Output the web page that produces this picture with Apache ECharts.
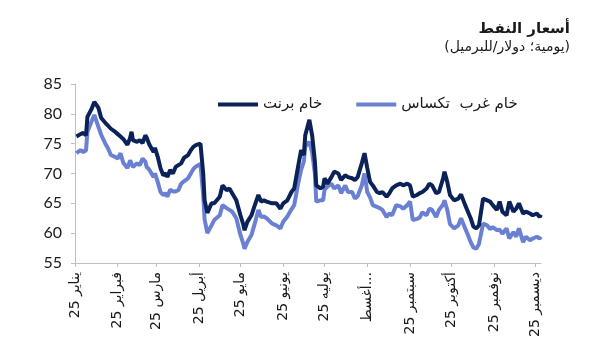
<!DOCTYPE html>
<html>
<head>
<meta charset="utf-8">
<script src="https://cdn.jsdelivr.net/npm/echarts@6/dist/echarts.min.js"></script>
<style>
html,body{margin:0;padding:0;background:#fff;}
#c{width:592px;height:363px;}
</style>
</head>
<body>
<div id="c"></div>
<script>
var monthLabels = ['يناير 25','فبراير 25','مارس 25','أبريل 25','مايو 25','يونيو 25','يوليه 25','أغسط...','سبتمبر 25','أكتوبر 25','نوفمبر 25','ديسمبر 25'];
var yTicks = [55, 60, 65, 70, 75, 80, 85];
var seriesNames = ['خام برنت', 'خام غرب  تكساس'];
var titleText = 'أسعار النفط';
var subtitleText = '(يومية؛ دولار/للبرميل)';

var dates = [
'2025-01-02','2025-01-05','2025-01-07','2025-01-09','2025-01-10','2025-01-13','2025-01-15','2025-01-18','2025-01-20','2025-01-23',
'2025-01-25','2025-01-27','2025-01-30','2025-02-01','2025-02-03','2025-02-05','2025-02-08','2025-02-10','2025-02-11','2025-02-12',
'2025-02-15','2025-02-17','2025-02-19','2025-02-21','2025-02-22','2025-02-24','2025-02-27','2025-02-28','2025-03-02','2025-03-04',
'2025-03-06','2025-03-08','2025-03-09','2025-03-11','2025-03-13','2025-03-15','2025-03-17','2025-03-19','2025-03-21','2025-03-24',
'2025-03-26','2025-03-28','2025-03-30','2025-04-02','2025-04-04','2025-04-05','2025-04-07','2025-04-10','2025-04-12','2025-04-16',
'2025-04-18','2025-04-21','2025-04-23','2025-04-25','2025-04-28','2025-05-01','2025-05-03','2025-05-04','2025-05-06','2025-05-09',
'2025-05-11','2025-05-14','2025-05-16','2025-05-18','2025-05-20','2025-05-24','2025-05-27','2025-05-30','2025-06-01','2025-06-04',
'2025-06-07','2025-06-09','2025-06-12','2025-06-14','2025-06-16','2025-06-17','2025-06-20','2025-06-22','2025-06-24','2025-06-25',
'2025-06-28','2025-06-30','2025-07-01','2025-07-03','2025-07-06','2025-07-08','2025-07-11','2025-07-13','2025-07-16','2025-07-18',
'2025-07-21','2025-07-23','2025-07-25','2025-07-28','2025-07-30','2025-08-01','2025-08-03','2025-08-05','2025-08-08','2025-08-10',
'2025-08-12','2025-08-15','2025-08-17','2025-08-19','2025-08-22','2025-08-25','2025-08-27','2025-08-30','2025-09-01','2025-09-03',
'2025-09-06','2025-09-08','2025-09-10','2025-09-13','2025-09-15','2025-09-17','2025-09-20','2025-09-22','2025-09-25','2025-09-26',
'2025-09-28','2025-09-30','2025-10-03','2025-10-06','2025-10-08','2025-10-11','2025-10-13','2025-10-15','2025-10-17','2025-10-19',
'2025-10-21','2025-10-24','2025-10-27','2025-10-29','2025-10-31','2025-11-03','2025-11-05','2025-11-07','2025-11-10','2025-11-12',
'2025-11-15','2025-11-17','2025-11-19','2025-11-22','2025-11-24','2025-11-27','2025-11-29','2025-12-02','2025-12-04','2025-12-05'
];

var brent = [
76.2,76.6,76.8,76.4,79.5,80.8,82.0,81.0,79.3,78.5,
78.0,77.5,77.0,76.6,76.2,75.8,74.8,76.0,77.0,75.6,
75.3,75.6,75.1,76.4,76.0,74.8,73.6,74.3,72.8,70.9,
69.7,70.0,69.4,70.6,70.0,71.1,71.4,71.7,72.6,73.1,
73.9,74.5,74.8,75.0,70.0,65.5,63.4,65.0,65.0,66.1,
68.0,67.2,67.5,66.7,65.5,63.0,61.5,60.5,61.9,63.0,
64.4,66.4,65.3,65.5,65.3,65.0,65.0,64.1,65.0,65.5,
66.9,67.5,71.4,73.9,73.1,76.4,79.0,76.4,72.0,68.0,
67.5,67.8,69.2,68.3,69.4,70.3,70.0,68.9,69.7,69.4,
69.2,68.9,69.4,71.7,73.4,70.9,68.6,68.0,66.9,66.7,
66.9,66.1,66.7,67.5,68.0,68.3,68.0,68.3,68.0,66.1,
66.4,66.7,66.9,67.5,68.3,68.0,66.7,66.9,69.2,70.3,
68.6,66.4,65.5,65.8,66.5,64.7,63.6,62.5,61.1,60.8,
61.3,65.8,65.5,65.3,64.7,63.9,65.3,63.6,63.0,65.3,
63.6,64.1,65.0,63.3,63.6,63.3,63.0,63.3,62.7,63.1
];

var wti = [
73.4,73.9,73.6,73.9,77.0,78.7,79.8,77.8,76.5,75.0,
74.2,73.1,72.8,72.5,73.4,71.8,70.9,72.2,72.0,71.1,
71.7,71.4,72.5,72.0,71.1,70.6,69.4,70.0,68.6,66.9,
66.4,66.7,66.1,67.3,67.0,67.0,67.2,68.3,68.7,69.2,
70.0,70.8,71.2,71.6,66.4,62.3,60.0,61.3,62.2,63.0,
64.7,64.2,63.9,63.6,62.5,59.7,58.3,57.4,58.5,59.7,
61.3,63.9,62.7,62.8,62.5,61.6,61.3,60.8,61.9,62.8,
64.0,64.7,68.5,70.6,72.0,74.5,75.3,73.5,70.0,65.3,
65.5,65.5,67.3,67.8,68.3,67.5,68.0,66.7,68.0,66.9,
66.9,65.8,66.2,68.0,70.0,66.9,66.0,64.7,64.4,64.2,
63.9,62.7,63.3,63.0,64.7,64.5,64.1,64.7,65.3,62.2,
62.4,62.6,63.5,63.0,64.1,63.9,62.7,63.9,64.8,65.5,
63.9,61.5,60.8,61.3,62.5,60.8,59.7,58.5,57.6,57.4,
58.2,61.6,61.3,60.7,61.0,60.5,60.6,59.9,60.8,59.1,
60.2,59.4,60.8,58.5,59.4,58.8,59.1,59.4,59.1,59.4
];

function toTs(s){ var p = s.split('-'); return new Date(+p[0], +p[1]-1, +p[2]).getTime(); }
var monthStarts = monthLabels.map(function(_, i){ return new Date(2025, i, 1).getTime(); });
var xMin = new Date(2025, 0, 1).getTime();
var xMax = new Date(2025, 11, 5).getTime();

var brentData = dates.map(function(d, i){ return [toTs(d), brent[i]]; });
var wtiData = dates.map(function(d, i){ return [toTs(d), wti[i]]; });

var chart = echarts.init(document.getElementById('c'), null, {renderer: 'canvas'});
var axisColor = '#bfbfbf';
var textColor = '#1a1a1a';
chart.setOption({
  animation: false,
  backgroundColor: '#ffffff',
  title: [
    {
      text: titleText,
      right: 22,
      top: 22,
      padding: 0,
      textStyle: {fontFamily: 'DejaVu Sans', fontSize: 15, fontWeight: 'bold', color: textColor}
    },
    {
      text: subtitleText,
      right: 22,
      top: 40,
      padding: 0,
      textStyle: {fontFamily: 'DejaVu Sans', fontSize: 14, fontWeight: 'normal', color: textColor}
    }
  ],
  legend: {
    left: 213,
    top: 92,
    icon: 'rect',
    itemWidth: 40,
    itemHeight: 4,
    itemGap: 34,
    data: seriesNames,
    textStyle: {fontFamily: 'DejaVu Sans', fontSize: 15, color: textColor}
  },
  grid: {left: 75, right: 51, top: 84, bottom: 100, containLabel: false},
  xAxis: {
    type: 'value',
    min: xMin,
    max: xMax,
    splitLine: {show: false},
    axisLine: {show: true, lineStyle: {color: axisColor, width: 1}},
    axisTick: {show: true, length: 4, lineStyle: {color: axisColor}, customValues: monthStarts},
    axisLabel: {
      customValues: monthStarts,
      rotate: 90,
      margin: 9,
      fontFamily: 'DejaVu Sans',
      fontSize: 14,
      color: textColor,
      formatter: function(v){ return monthLabels[new Date(v).getMonth()]; }
    }
  },
  yAxis: {
    type: 'value',
    min: yTicks[0],
    max: yTicks[yTicks.length - 1],
    interval: 5,
    splitLine: {show: false},
    axisLine: {show: true, lineStyle: {color: axisColor, width: 1}},
    axisTick: {show: true, length: 4, lineStyle: {color: axisColor}},
    axisLabel: {margin: 13, fontFamily: 'Lato', fontSize: 16, color: textColor}
  },
  series: [
    {name: seriesNames[0], type: 'line', data: brentData, showSymbol: false, symbol: 'none',
     lineStyle: {color: '#0b2258', width: 4}, itemStyle: {color: '#0b2258'}, z: 3},
    {name: seriesNames[1], type: 'line', data: wtiData, showSymbol: false, symbol: 'none',
     lineStyle: {color: '#6a80d2', width: 4}, itemStyle: {color: '#6a80d2'}, z: 2}
  ]
});
</script>
</body>
</html>
